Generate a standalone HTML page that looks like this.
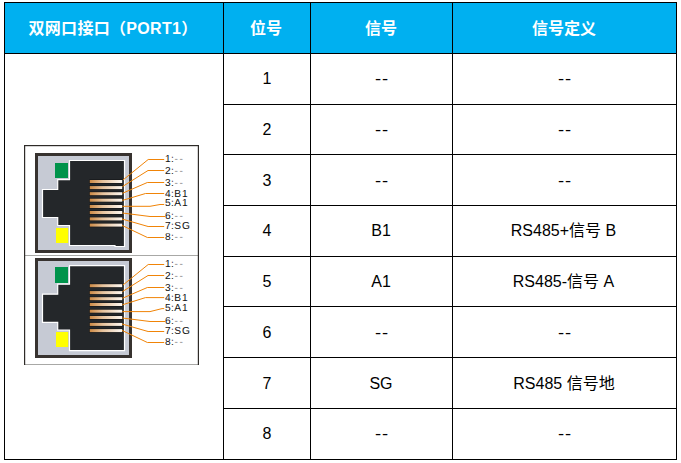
<!DOCTYPE html>
<html lang="zh-CN">
<head>
<meta charset="utf-8">
<title>双网口接口（PORT1）</title>
<style>
html,body{margin:0;padding:0;background:#fff;}
body{width:681px;height:463px;position:relative;overflow:hidden;font-family:"Liberation Sans","Noto Sans CJK SC",sans-serif;color:#000;}
.hd{position:absolute;left:4px;top:2px;width:673px;height:52px;background:#00b0f0;}
.v,.h{position:absolute;background:#000;}
.v{width:1px;top:2px;height:458px;}
.h{height:1px;left:223px;width:454px;}
.h.f{left:4px;width:673px;}
.c{position:absolute;display:flex;align-items:center;justify-content:center;white-space:nowrap;font-size:16px;line-height:20px;}
.c span{display:block;position:relative;}
.c.th{color:#fff;font-weight:bold;font-size:16px;}
.c.th.w{letter-spacing:0.3px;}
.c span.dd{letter-spacing:0.7px;transform:scaleX(1.15);}
svg{position:absolute;left:0;top:0;}
svg text{font-family:"Liberation Sans",sans-serif;font-size:10.2px;fill:#111;text-rendering:geometricPrecision;}
svg .d{fill:#8a8a8a;}
svg .lb{opacity:0.999;}
</style>
</head>
<body>
<div class="hd"></div>
<div class="v" style="left:4px"></div>
<div class="v" style="left:223px"></div>
<div class="v" style="left:310px"></div>
<div class="v" style="left:452px"></div>
<div class="v" style="left:676px"></div>
<div class="h f" style="top:2px"></div>
<div class="h f" style="top:53px"></div>
<div class="h" style="top:104px"></div>
<div class="h" style="top:154px"></div>
<div class="h" style="top:205px"></div>
<div class="h" style="top:256px"></div>
<div class="h" style="top:306px"></div>
<div class="h" style="top:357px"></div>
<div class="h" style="top:408px"></div>
<div class="h f" style="top:459px"></div>
<div class="c th w" style="left:5px;top:3px;width:218px;height:50px"><span style="left:-1px;top:1px">双网口接口（PORT1）</span></div>
<div class="c th" style="left:224px;top:3px;width:86px;height:50px"><span style="left:-1px;top:1px">位号</span></div>
<div class="c th" style="left:311px;top:3px;width:141px;height:50px"><span style="left:-0.5px;top:1px">信号</span></div>
<div class="c th" style="left:453px;top:3px;width:223px;height:50px"><span style="left:-0.5px;top:1px">信号定义</span></div>
<div class="c" style="left:224px;top:54px;width:86px;height:50px"><span>1</span></div>
<div class="c" style="left:311px;top:54px;width:141px;height:50px"><span class="dd" style="left:0.5px;top:0px">--</span></div>
<div class="c" style="left:453px;top:54px;width:223px;height:50px"><span class="dd" style="left:0.5px;top:0px">--</span></div>
<div class="c" style="left:224px;top:105px;width:86px;height:49px"><span>2</span></div>
<div class="c" style="left:311px;top:105px;width:141px;height:49px"><span class="dd" style="left:0.5px;top:0px">--</span></div>
<div class="c" style="left:453px;top:105px;width:223px;height:49px"><span class="dd" style="left:0.5px;top:0px">--</span></div>
<div class="c" style="left:224px;top:155px;width:86px;height:50px"><span style="left:0px;top:1px">3</span></div>
<div class="c" style="left:311px;top:155px;width:141px;height:50px"><span class="dd" style="left:0.5px;top:1px">--</span></div>
<div class="c" style="left:453px;top:155px;width:223px;height:50px"><span class="dd" style="left:0.5px;top:1px">--</span></div>
<div class="c" style="left:224px;top:206px;width:86px;height:50px"><span>4</span></div>
<div class="c" style="left:311px;top:206px;width:141px;height:50px"><span style="left:-0.5px;top:0px">B1</span></div>
<div class="c" style="left:453px;top:206px;width:223px;height:50px"><span style="left:-1px;top:0px">RS485+信号 B</span></div>
<div class="c" style="left:224px;top:257px;width:86px;height:49px"><span>5</span></div>
<div class="c" style="left:311px;top:257px;width:141px;height:49px"><span style="left:-0.5px;top:0px">A1</span></div>
<div class="c" style="left:453px;top:257px;width:223px;height:49px"><span style="left:-1px;top:0px">RS485-信号 A</span></div>
<div class="c" style="left:224px;top:307px;width:86px;height:50px"><span style="left:0px;top:1px">6</span></div>
<div class="c" style="left:311px;top:307px;width:141px;height:50px"><span class="dd" style="left:0.5px;top:1px">--</span></div>
<div class="c" style="left:453px;top:307px;width:223px;height:50px"><span class="dd" style="left:0.5px;top:1px">--</span></div>
<div class="c" style="left:224px;top:358px;width:86px;height:50px"><span style="left:0px;top:1px">7</span></div>
<div class="c" style="left:311px;top:358px;width:141px;height:50px"><span style="left:-0.5px;top:1px">SG</span></div>
<div class="c" style="left:453px;top:358px;width:223px;height:50px"><span style="left:-0.5px;top:1px">RS485 信号地</span></div>
<div class="c" style="left:224px;top:409px;width:86px;height:50px"><span>8</span></div>
<div class="c" style="left:311px;top:409px;width:141px;height:50px"><span class="dd" style="left:0.5px;top:0px">--</span></div>
<div class="c" style="left:453px;top:409px;width:223px;height:50px"><span class="dd" style="left:0.5px;top:0px">--</span></div>
<svg width="681" height="463" viewBox="0 0 681 463">
<defs><linearGradient id="pg" x1="0" y1="0" x2="1" y2="0"><stop offset="0" stop-color="#cd8a45"/><stop offset="0.4" stop-color="#e6c29c"/><stop offset="0.8" stop-color="#f5e6d6"/><stop offset="1" stop-color="#fdf8f2"/></linearGradient></defs>
<rect x="24" y="145" width="175" height="220" fill="#fff"/>
<rect x="24" y="255" width="175" height="1" fill="#a8a8a6"/>
<rect x="24" y="364" width="175" height="1" fill="#a8a8a6"/>
<rect x="24" y="145" width="175" height="1.2" fill="#2e2b28"/>
<rect x="24" y="145" width="1.2" height="220" fill="#2e2b28"/>
<rect x="197.8" y="145" width="1.2" height="220" fill="#2e2b28"/>
<g transform="translate(0,0)">
<rect x="36.5" y="154.5" width="94" height="97" fill="#c6cad4" stroke="#37322f" stroke-width="3"/>
<path d="M69.5 160.5H124.5V246.5H115V245.5H69.5V225.5H57.7V217.5H42.5V189.5H57.7V179.6H69.5Z" fill="#24272a" stroke="#fff" stroke-width="1.2"/>
<rect x="55" y="163" width="13" height="15" fill="#00934b"/>
<rect x="56" y="228" width="12.2" height="15" fill="#ffff00"/>
<rect x="89.3" y="179.3" width="33.4" height="4.4" fill="#17191b"/>
<rect x="89.8" y="180.0" width="32.4" height="3" fill="url(#pg)"/>
<rect x="89.3" y="185.4" width="33.4" height="4.4" fill="#17191b"/>
<rect x="89.8" y="186.1" width="32.4" height="3" fill="url(#pg)"/>
<rect x="89.3" y="191.5" width="33.4" height="4.4" fill="#17191b"/>
<rect x="89.8" y="192.2" width="32.4" height="3" fill="url(#pg)"/>
<rect x="89.3" y="198.0" width="33.4" height="4.4" fill="#17191b"/>
<rect x="89.8" y="198.7" width="32.4" height="3" fill="url(#pg)"/>
<rect x="89.3" y="204.3" width="33.4" height="4.4" fill="#17191b"/>
<rect x="89.8" y="205.0" width="32.4" height="3" fill="url(#pg)"/>
<rect x="89.3" y="210.3" width="33.4" height="4.4" fill="#17191b"/>
<rect x="89.8" y="211.0" width="32.4" height="3" fill="url(#pg)"/>
<rect x="89.3" y="216.7" width="33.4" height="4.4" fill="#17191b"/>
<rect x="89.8" y="217.4" width="32.4" height="3" fill="url(#pg)"/>
<rect x="89.3" y="222.9" width="33.4" height="4.4" fill="#17191b"/>
<rect x="89.8" y="223.6" width="32.4" height="3" fill="url(#pg)"/>
<path d="M123 180L148.2 159.5H164.2" fill="none" stroke="#f08408" stroke-width="1"/>
<path d="M122.4 186.6L148 170.5H164.2" fill="none" stroke="#f08408" stroke-width="1"/>
<path d="M122.4 193.3L147.3 182.5H164.2" fill="none" stroke="#f08408" stroke-width="1"/>
<path d="M122.4 200.4L145.5 193.5H164.2" fill="none" stroke="#f08408" stroke-width="1"/>
<path d="M122.4 206.3H150L160 204.5H164.2" fill="none" stroke="#f08408" stroke-width="1"/>
<path d="M122.4 213L150 216.5H165" fill="none" stroke="#f08408" stroke-width="1"/>
<path d="M122 219L148.1 226.5H164.2" fill="none" stroke="#f08408" stroke-width="1"/>
<path d="M122 225.4L147.4 237.5H164.2" fill="none" stroke="#f08408" stroke-width="1"/>
<g class="lb">
<text x="165" y="162">1<tspan x="171">:</tspan><tspan x="174.4" class="d">-</tspan><tspan x="179.4" class="d">-</tspan></text>
<text x="165" y="174">2<tspan x="171">:</tspan><tspan x="174.4" class="d">-</tspan><tspan x="179.4" class="d">-</tspan></text>
<text x="165" y="186">3<tspan x="171">:</tspan><tspan x="174.4" class="d">-</tspan><tspan x="179.4" class="d">-</tspan></text>
<text x="165" y="197">4<tspan x="171">:</tspan><tspan x="174.3">B</tspan><tspan x="182.1">1</tspan></text>
<text x="165" y="206">5<tspan x="171">:</tspan><tspan x="174.3">A</tspan><tspan x="182.1">1</tspan></text>
<text x="165" y="219">6<tspan x="171">:</tspan><tspan x="174.4" class="d">-</tspan><tspan x="179.4" class="d">-</tspan></text>
<text x="165" y="229">7<tspan x="171">:</tspan><tspan x="174.3">S</tspan><tspan x="182.1">G</tspan></text>
<text x="165" y="240">8<tspan x="171">:</tspan><tspan x="174.4" class="d">-</tspan><tspan x="179.4" class="d">-</tspan></text>
</g>
</g>
<g transform="translate(0,105)">
<rect x="36.5" y="154.5" width="94" height="97" fill="#c6cad4" stroke="#37322f" stroke-width="3"/>
<path d="M69.5 160.7H124.5V245.7H69.5V225.2H57.7V217.4H42.5V189.2H57.7V179.2H69.5Z" fill="#24272a" stroke="#fff" stroke-width="1.2"/>
<rect x="55" y="162" width="13" height="16" fill="#00934b"/>
<rect x="56" y="227" width="12.2" height="15" fill="#ffff00"/>
<rect x="89.3" y="178.5" width="33.4" height="4.4" fill="#17191b"/>
<rect x="89.8" y="179.2" width="32.4" height="3" fill="url(#pg)"/>
<rect x="89.3" y="185.4" width="33.4" height="4.4" fill="#17191b"/>
<rect x="89.8" y="186.1" width="32.4" height="3" fill="url(#pg)"/>
<rect x="89.3" y="191.5" width="33.4" height="4.4" fill="#17191b"/>
<rect x="89.8" y="192.2" width="32.4" height="3" fill="url(#pg)"/>
<rect x="89.3" y="197.3" width="33.4" height="4.4" fill="#17191b"/>
<rect x="89.8" y="198.0" width="32.4" height="3" fill="url(#pg)"/>
<rect x="89.3" y="204.0" width="33.4" height="4.4" fill="#17191b"/>
<rect x="89.8" y="204.7" width="32.4" height="3" fill="url(#pg)"/>
<rect x="89.3" y="210.3" width="33.4" height="4.4" fill="#17191b"/>
<rect x="89.8" y="211.0" width="32.4" height="3" fill="url(#pg)"/>
<rect x="89.3" y="217.2" width="33.4" height="4.4" fill="#17191b"/>
<rect x="89.8" y="217.9" width="32.4" height="3" fill="url(#pg)"/>
<rect x="89.3" y="223.4" width="33.4" height="4.4" fill="#17191b"/>
<rect x="89.8" y="224.1" width="32.4" height="3" fill="url(#pg)"/>
<path d="M123 180L148.2 159.5H164.2" fill="none" stroke="#f08408" stroke-width="1"/>
<path d="M122.4 186.6L148 170.5H164.2" fill="none" stroke="#f08408" stroke-width="1"/>
<path d="M122.4 193.3L147.3 182.5H164.2" fill="none" stroke="#f08408" stroke-width="1"/>
<path d="M122.4 199.8L145.5 192.6H164.2" fill="none" stroke="#f08408" stroke-width="1"/>
<path d="M122.4 206.6H150L162 203.6H164.2" fill="none" stroke="#f08408" stroke-width="1"/>
<path d="M122.4 213L150 216.5H165" fill="none" stroke="#f08408" stroke-width="1"/>
<path d="M122 219L148.1 226.5H164.2" fill="none" stroke="#f08408" stroke-width="1"/>
<path d="M122 225.4L147.4 237.5H164.2" fill="none" stroke="#f08408" stroke-width="1"/>
<g class="lb">
<text x="165" y="162">1<tspan x="171">:</tspan><tspan x="174.4" class="d">-</tspan><tspan x="179.4" class="d">-</tspan></text>
<text x="165" y="174">2<tspan x="171">:</tspan><tspan x="174.4" class="d">-</tspan><tspan x="179.4" class="d">-</tspan></text>
<text x="165" y="186">3<tspan x="171">:</tspan><tspan x="174.4" class="d">-</tspan><tspan x="179.4" class="d">-</tspan></text>
<text x="165" y="196.3">4<tspan x="171">:</tspan><tspan x="174.3">B</tspan><tspan x="182.1">1</tspan></text>
<text x="165" y="205.7">5<tspan x="171">:</tspan><tspan x="174.3">A</tspan><tspan x="182.1">1</tspan></text>
<text x="165" y="219">6<tspan x="171">:</tspan><tspan x="174.4" class="d">-</tspan><tspan x="179.4" class="d">-</tspan></text>
<text x="165" y="229">7<tspan x="171">:</tspan><tspan x="174.3">S</tspan><tspan x="182.1">G</tspan></text>
<text x="165" y="240">8<tspan x="171">:</tspan><tspan x="174.4" class="d">-</tspan><tspan x="179.4" class="d">-</tspan></text>
</g>
</g>
</svg>
</body>
</html>
